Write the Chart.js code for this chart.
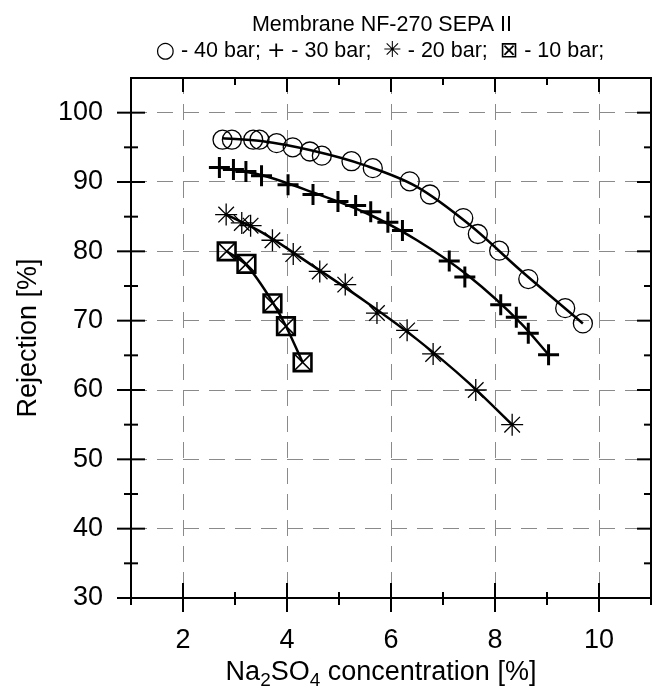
<!DOCTYPE html>
<html><head><meta charset="utf-8">
<script src="https://cdn.jsdelivr.net/npm/chart.js@4"></script>
<style>html,body{margin:0;padding:0;background:#fff;overflow:hidden}canvas{display:block}</style>
</head><body><canvas id="c" width="658" height="692" style="width:658px;height:692px"></canvas>
<script>
// ---- text ----
const titleLine1 = "Membrane NF-270 SEPA II";
// second title line: [text, isSymbol]
const titleLine2 = [["\u25CB", true], [" - 40 bar; ", false], ["+", true], [" - 30 bar;  ", false],
                    ["\u2733", true], [" - 20 bar;  ", false], ["\u22A0", true], [" - 10 bar;", false]];
const yTitle = "Rejection [%]";
const xTitleParts = [["Na", false], ["2", true], ["SO", false], ["4", true], [" concentration [%]", false]];

// ---- ticks ----
const xMajorTicks = [2, 4, 6, 8, 10];
const xMinorTicks = [1, 3, 5, 7, 9, 11];
const yMajorTicks = [30, 40, 50, 60, 70, 80, 90, 100];
const yMinorTicks = [35, 45, 55, 65, 75, 85, 95];

// ---- measured points ----
const x40 = [2.76, 2.94, 3.35, 3.47, 3.80, 4.11, 4.44, 4.67, 5.24, 5.65, 6.36, 6.75, 7.39, 7.67, 8.08, 8.64, 9.35, 9.69];
const y40 = [96.1, 96.1, 96.1, 96.1, 95.6, 95.0, 94.4, 93.8, 93.0, 92.0, 90.1, 88.2, 84.8, 82.5, 80.1, 76.0, 71.8, 69.6];
const x30 = [2.70, 2.97, 3.21, 3.51, 4.02, 4.50, 4.98, 5.32, 5.61, 5.94, 6.22, 7.12, 7.42, 8.11, 8.41, 8.64, 9.03];
const y30 = [92.1, 91.8, 91.5, 90.9, 89.6, 88.2, 87.2, 86.6, 85.7, 84.2, 83.0, 78.6, 76.3, 72.3, 70.5, 68.2, 65.1];
const x20 = [2.83, 3.13, 3.30, 3.72, 4.12, 4.63, 5.12, 5.73, 6.31, 6.81, 7.63, 8.33];
const y20 = [85.3, 84.1, 83.7, 81.6, 79.6, 77.1, 75.2, 71.1, 68.6, 65.2, 60.0, 55.0];
const x10 = [2.84, 3.22, 3.72, 3.98, 4.30];
const y10 = [80.0, 78.2, 72.5, 69.2, 64.0];

// ---- fitted curves ----
const fx40 = [2.76, 3.5, 4.5, 5.5, 6.5, 7.5, 8.5, 9.69];
const fy40 = [96.3, 95.9, 94.5, 92.4, 89.3, 83.9, 77.2, 69.6];
const fx30 = [2.70, 3.5, 4.5, 5.5, 6.5, 7.5, 8.5, 9.03];
const fy30 = [92.1, 91.0, 88.5, 85.6, 81.6, 76.4, 69.6, 65.1];
const fx20 = [2.83, 3.5, 4.5, 5.5, 6.5, 7.5, 8.33];
const fy20 = [85.3, 82.8, 77.9, 72.8, 67.3, 61.0, 55.0];
const fx10 = [2.84, 3.22, 3.72, 3.98, 4.30];
const fy10 = [80.0, 78.0, 72.7, 69.2, 64.0];

const pts = (xs, ys) => xs.map((x, i) => ({x: x, y: ys[i]}));
const FONT = "'Liberation Sans', Arial, 'DejaVu Sans', sans-serif";
const SYMFONT = "'DejaVu Sans', sans-serif";

function fitLine(xs, ys) {
  return { type: 'line', data: pts(xs, ys), borderColor: '#000', borderWidth: 2.5, pointRadius: 0,
           cubicInterpolationMode: 'monotone', fill: false, order: 2 };
}
function markers(xs, ys, style, r, bw) {
  return { type: 'scatter', data: pts(xs, ys), pointStyle: style, pointRadius: r, pointHoverRadius: r,
           borderColor: '#000', backgroundColor: 'rgba(0,0,0,0)', pointBorderWidth: bw, borderWidth: bw,
           showLine: false, order: 1 };
}

function drawParts(ctx, parts, cx, base, fontOf, dyOf) {
  let total = 0;
  parts.forEach(p => { ctx.font = fontOf(p); total += ctx.measureText(p[0]).width; });
  let x = cx - total / 2;
  ctx.textAlign = 'left';
  parts.forEach(p => {
    ctx.font = fontOf(p);
    ctx.fillText(p[0], x, base + dyOf(p));
    x += ctx.measureText(p[0]).width;
  });
}

const framePlugin = {
  id: 'frame',
  afterDraw(chart) {
    const ctx = chart.ctx, a = chart.chartArea;
    const xs = chart.scales.x, ys = chart.scales.y;
    ctx.save();
    ctx.strokeStyle = '#000';
    ctx.lineWidth = 2;
    ctx.strokeRect(a.left, a.top, a.right - a.left, a.bottom - a.top);
    const seg = (x1, y1, x2, y2) => { ctx.beginPath(); ctx.moveTo(x1, y1); ctx.lineTo(x2, y2); ctx.stroke(); };
    xMajorTicks.forEach(v => { const p = xs.getPixelForValue(v);
      seg(p, a.bottom - 15, p, a.bottom + 14); seg(p, a.top, p, a.top + 14); });
    xMinorTicks.forEach(v => { const p = xs.getPixelForValue(v);
      seg(p, a.bottom - 6, p, a.bottom + 7); seg(p, a.top, p, a.top + 7); });
    yMajorTicks.forEach(v => { const p = ys.getPixelForValue(v);
      seg(a.left - 14, p, a.left + 14, p); seg(a.right - 14, p, a.right, p); });
    yMinorTicks.forEach(v => { const p = ys.getPixelForValue(v);
      seg(a.left - 7, p, a.left + 7, p); seg(a.right - 7, p, a.right, p); });

    // title
    ctx.fillStyle = '#000';
    ctx.textAlign = 'center';
    ctx.textBaseline = 'alphabetic';
    const cx = (a.left + a.right) / 2 - 9;
    ctx.font = '21.5px ' + FONT;
    ctx.fillText(titleLine1, cx, 31);
    drawParts(ctx, titleLine2, cx - 2, 57,
      p => p[1] ? '22px ' + SYMFONT : '21.5px ' + FONT,
      p => 0);

    // x axis title with subscripts
    drawParts(ctx, xTitleParts, (a.left + a.right) / 2 - 10, 680,
      p => p[1] ? '19px ' + FONT : '27px ' + FONT,
      p => p[1] ? 6 : 0);
    ctx.restore();
  }
};

new Chart(document.getElementById('c'), {
  data: {
    datasets: [
      fitLine(fx40, fy40), fitLine(fx30, fy30), fitLine(fx20, fy20), fitLine(fx10, fy10),
      markers(x40, y40, 'circle', 9.5, 1.3),
      markers(x30, y30, 'cross', 10.5, 3),
      markers(x20, y20, 'star', 11, 1.3),
      markers(x10, y10, 'rect', 12.5, 2.6),
      markers(x10, y10, 'crossRot', 12.3, 1.6)
    ]
  },
  options: {
    responsive: false, maintainAspectRatio: false, animation: false,
    devicePixelRatio: 1,
    layout: { autoPadding: false, padding: { top: 78, right: 7, left: 0, bottom: 0 } },
    plugins: { legend: { display: false }, title: { display: false }, tooltip: { enabled: false } },
    scales: {
      x: {
        type: 'linear', min: 1, max: 11,
        afterBuildTicks: s => { s.ticks = xMajorTicks.map(v => ({ value: v })); },
        afterFit: s => { s.height = 94; s.paddingLeft = 0; s.paddingRight = 0; },
        ticks: { font: { family: FONT, size: 27 }, color: '#000', padding: 26, maxRotation: 0 },
        grid: { color: '#8a8a8a', lineWidth: 1, drawTicks: false },
        border: { display: false, dash: [16, 10] }
      },
      y: {
        type: 'linear', min: 30, max: 105,
        afterBuildTicks: s => { s.ticks = yMajorTicks.map(v => ({ value: v })); },
        afterFit: s => { s.width = 131; s.paddingTop = 0; s.paddingBottom = 0; },
        ticks: { font: { family: FONT, size: 27 }, color: '#000', padding: 28 },
        grid: { color: '#8a8a8a', lineWidth: 1, drawTicks: false },
        border: { display: false, dash: [16, 10] },
        title: { display: true, text: yTitle, font: { family: FONT, size: 27 }, color: '#000', padding: { top: 12, bottom: 0 } }
      }
    }
  },
  plugins: [framePlugin]
});
</script>
</body></html>
